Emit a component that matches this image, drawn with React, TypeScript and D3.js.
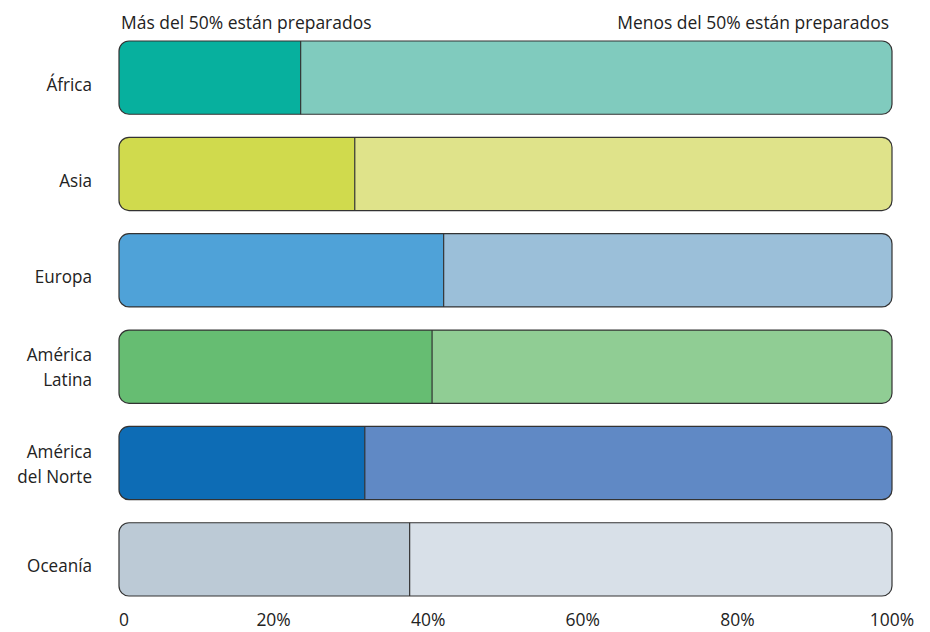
import React from "react";
import * as d3 from "d3";

const regions = ["África", "Asia", "Europa", "América\nLatina", "América\ndel Norte", "Oceanía"];
const prepared = [23.5, 30.5, 42.0, 40.5, 31.8, 37.6];
const darkColors = ["#07b09e", "#d0da4d", "#4fa2d8", "#66bd72", "#0d6cb5", "#bccad6"];
const lightColors = ["#80cbbe", "#dfe38a", "#9bbfd9", "#90cd94", "#6089c5", "#d8e0e8"];
const ticks = [0, 20, 40, 60, 80, 100];
const tickLabels = ["0", "20%", "40%", "60%", "80%", "100%"];
const headerLeft = "Más del 50% están preparados";
const headerRight = "Menos del 50% están preparados";

const W = 930, H = 632;
const FONT = "'Open Sans', 'Noto Sans', sans-serif";
const FS = 19;
const SX = 0.92;

function Label({ x, y, anchor = "start", size = FS, sx = SX, children }: { x: number; y: number; anchor?: string; size?: number; sx?: number; children: React.ReactNode }) {
  return (
    <text transform={`translate(${x},${y}) scale(${sx},1)`} textAnchor={anchor as any} fontFamily={FONT} fontSize={size} fill="#222">
      {children}
    </text>
  );
}

export default function App() {
  const x = d3.scaleLinear().domain([0, 100]).range([119, 892]);
  const y = d3.scaleBand<number>().domain(regions.map((_, i) => i)).range([41, 596]).paddingInner(0.24).paddingOuter(0);
  const r = 10;
  return (
    <svg width={W} height={H} style={{ position: "absolute", left: 0, top: 0, background: "#fff" }}>
      <defs>
        {regions.map((_, i) => (
          <clipPath id={`clip${i}`} key={i}>
            <rect x={x(0)} y={y(i)} width={x(100) - x(0)} height={y.bandwidth()} rx={r} ry={r} />
          </clipPath>
        ))}
      </defs>
      <Label x={x(0) + 2} y={28.5}>{headerLeft}</Label>
      <Label x={x(100) - 3} y={28.5} anchor="end">{headerRight}</Label>
      {regions.map((name, i) => {
        const y0 = y(i)!;
        const h = y.bandwidth();
        const lines = name.split("\n");
        const cy = y0 + h / 2;
        const baselines = lines.length === 1 ? [cy + 13] : [cy - 5.5, cy + 19.5];
        return (
          <g key={i}>
            <rect x={x(0)} y={y0} width={x(100) - x(0)} height={h} rx={r} ry={r} fill={lightColors[i]} />
            <rect x={x(0)} y={y0} width={x(prepared[i]) - x(0)} height={h} fill={darkColors[i]} clipPath={`url(#clip${i})`} />
            <line x1={x(prepared[i])} x2={x(prepared[i])} y1={y0} y2={y0 + h} stroke="#333" strokeWidth={1.2} />
            <rect x={x(0)} y={y0} width={x(100) - x(0)} height={h} rx={r} ry={r} fill="none" stroke="#333" strokeWidth={1.2} />
            {lines.map((l, k) => (
              <Label key={k} x={92} y={baselines[k]} anchor="end" size={18} sx={0.95}>{l}</Label>
            ))}
          </g>
        );
      })}
      {ticks.map((t, i) => (
        <Label key={t} x={t === 0 ? x(t) + 5 : x(t)} y={626} anchor="middle">{tickLabels[i]}</Label>
      ))}
    </svg>
  );
}
